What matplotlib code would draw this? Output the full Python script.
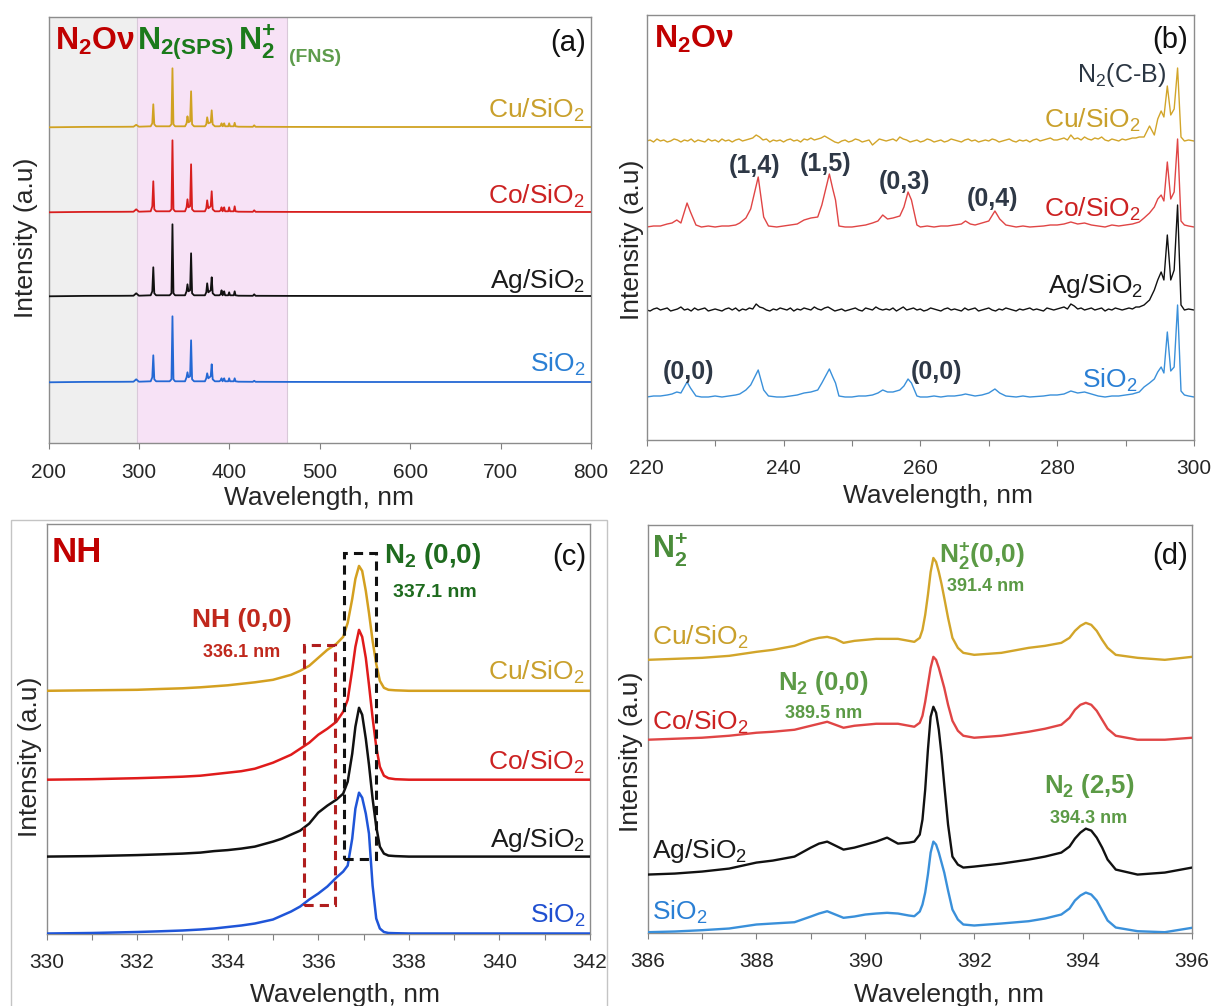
import matplotlib
matplotlib.use("Agg")
import matplotlib.pyplot as plt
from matplotlib.patches import Rectangle
from matplotlib.ticker import MultipleLocator

plt.rcParams['font.family'] = ['Liberation Sans', 'DejaVu Sans']
plt.rcParams['mathtext.fontset'] = 'custom'
plt.rcParams['mathtext.rm'] = 'Liberation Sans'
plt.rcParams['mathtext.bf'] = 'Liberation Sans:bold'
plt.rcParams['mathtext.it'] = 'Liberation Sans:italic'

# ---------------- data ----------------
samples = ["Cu/SiO$_2$", "Co/SiO$_2$", "Ag/SiO$_2$", "SiO$_2$"]

# panel (a): full spectra 200-800 nm (intensity above each trace's baseline)
wl_a = [200, 240, 280, 294, 297, 300,
        313, 314.8, 315.9, 317, 319,
        334, 336, 337.1, 338.2, 340,
        351, 352.7, 353.7, 354.8, 356.6, 357.7, 358.8, 361,
        373, 374.5, 375.5, 376.8, 379.4, 380.5, 381.6, 384,
        389, 390.4, 391.4, 392.5, 393.3, 394.3, 395.3,
        398.8, 399.8, 400.8, 404.9, 405.9, 406.9, 410,
        426, 427.5, 429, 465, 550, 650, 800]
a_cu = [0, 0.4, 0.5, 0.6, 2.5, 0.6,
        1, 4, 23, 3, 1,
        1, 3, 59, 3, 1,
        1, 4, 11, 5, 6, 36, 3, 1,
        1, 3, 10, 4, 5, 17, 3, 1,
        1, 1.5, 4, 1, 1.5, 4, 1,
        1, 4, 1, 1, 4.5, 1, 0.6,
        0.5, 2, 0.5, 0.4, 0.3, 0.3, 0.3]
a_co = [0, 0.4, 0.5, 0.6, 3, 0.6,
        1, 6, 31, 3, 1,
        1, 3, 72, 3, 1,
        1, 5, 13, 5, 6, 48, 3, 1,
        1, 4, 12, 4, 6, 21, 3, 1,
        1, 2, 5, 1, 2, 5, 1,
        1, 5, 1, 1, 6, 1, 0.6,
        0.5, 2, 0.5, 0.4, 0.3, 0.3, 0.3]
a_ag = [0, 0.4, 0.5, 0.6, 3, 0.6,
        1, 5, 29, 3, 1,
        1, 3, 72, 3, 1,
        1, 5, 12, 5, 6, 43, 3, 1,
        1, 4, 13, 4, 6, 19, 3, 1,
        1, 2, 6, 1, 2, 5, 1,
        1, 4, 1, 1, 5, 1, 0.6,
        0.5, 2, 0.5, 0.4, 0.3, 0.3, 0.3]
a_si = [0, 0.4, 0.5, 0.6, 3, 0.6,
        1, 5, 27, 3, 1,
        1, 3, 66, 3, 1,
        1, 5, 10, 5, 6, 42, 3, 1,
        1, 4, 9, 4, 6, 18, 3, 1,
        1, 2, 4, 1, 2, 4, 1,
        1, 4, 1, 1, 4, 1, 0.6,
        0.5, 1.5, 0.5, 0.4, 0.3, 0.3, 0.3]
offsets_a = [316, 231, 147, 61]

# panel (b): 220-300 nm
wl_b_struct = [220, 221, 222, 223, 223.7, 224.4, 225, 225.9, 226.4, 227.2,
               228, 229, 230, 231, 232, 233, 233.6, 234.5, 235.2, 236.3,
               237.1, 237.8, 239, 240, 241, 242, 243, 244, 245, 245.6,
               246.7, 247.2, 247.6, 248.1, 249, 250, 251, 252, 253, 253.8,
               254.5, 255.2, 256, 257, 257.6, 258.2, 258.7, 259.5, 260, 261,
               262, 263, 264, 265, 266, 266.6, 267.3, 268, 269, 270,
               270.9, 271.6, 272.5, 274, 275, 276, 278, 279, 280, 281,
               282, 283, 284, 285, 286, 287, 288, 289, 290, 291,
               292, 292.7, 293.5, 294.2, 294.7, 295.2, 295.6, 296.1, 296.6, 297.1,
               297.6, 298.1, 298.6, 299.2, 300]
b_co = [0, 1, 1, 3, 4, 7, 4, 24, 15, 2,
        0, 1, 0, 1, 1, 2, 4, 9, 18, 50,
        10, 1, 0, 1, 2, 3, 7, 9, 10, 22,
        53, 38, 27, 1, 0, 0, 1, 2, 4, 6,
        12, 8, 9, 11, 20, 35, 27, 2, 0, 1,
        0, 1, 1, 2, 3, 6, 3, 2, 4, 6,
        16, 8, 2, 0, 1, 0, 1, 2, 2, 3,
        5, 3, 4, 2, 1, 0, 2, 1, 2, 3,
        5, 9, 14, 20, 28, 32, 26, 65, 28, 35,
        88, 6, 2, 1, 0]
b_si = [0, 1, 1, 2, 3, 5, 4, 15, 9, 1,
        0, 0, 1, 0, 1, 2, 3, 7, 12, 27,
        7, 1, 0, 0, 1, 2, 4, 5, 7, 14,
        28, 20, 14, 1, 0, 0, 1, 1, 2, 4,
        7, 5, 5, 7, 11, 18, 14, 1, 0, 0,
        1, 0, 1, 1, 2, 3, 2, 1, 2, 4,
        8, 4, 1, 0, 1, 0, 1, 2, 2, 3,
        6, 4, 5, 3, 1, 0, 1, 1, 2, 3,
        5, 10, 14, 18, 25, 30, 24, 65, 26, 30,
        92, 6, 2, 1, 0]
# noisy traces: 0.5 nm grid from 220 to 292, then the N2(C-B) band head
wl_b_noise = [220 + 0.5 * i for i in range(145)] + \
             [292.7, 293.5, 294.2, 294.7, 295.2, 295.6, 296.1, 296.6, 297.1,
              297.6, 298.1, 298.6, 299.2, 300]
b_cu = [0, 1, -1, 2, 0, 1, -1, 0, 2, 1,
        -1, 1, 0, 2, -1, 1, 0, -1, 2, 0,
        1, -1, 2, 0, 1, -1, 1, 2, 0, 1,
        2, 3, 6, 4, 1, 2, -1, 1, 0, 1,
        -1, 1, 2, 0, 1, -1, 2, 1, 3, 1,
        2, 3, 5, 3, 1, -1, -2, 0, 1, -1,
        0, 2, 1, -1, 0, 1, -4, -1, 2, 1,
        0, 1, 2, 0, 4, 2, 1, -1, 0, 1,
        -1, 0, 2, 1, -1, 0, 1, -1, 0, 2,
        1, 0, -1, 1, 2, 0, 1, -1, 0, 1,
        0, 2, 1, -1, 0, 1, 2, 0, -1, 1,
        0, 1, -1, 1, 2, 0, 1, 2, 3, 1,
        1, 2, 3, 1, 6, 2, 3, 1, 4, 2,
        1, 3, 2, 4, 1, 0, 2, 1, 0, 2,
        1, 2, 3, 3, 4,
        4, 15, 6, 22, 30, 24, 55, 26, 32,
        73, 4, 0, 1, 0]
b_ag = [0, -1, 1, 2, 0, 1, 2, -1, 0, 1,
        3, 0, 1, -1, 2, 0, 1, 2, -1, 0,
        1, 0, -1, 1, 2, 0, 2, -1, 1, 0,
        2, 1, 6, 3, 2, 0, -1, 1, 0, 2,
        1, 0, 2, -1, 1, 0, 2, 1, 0, 3,
        1, 0, 2, 3, 1, -1, 0, 1, -1, 0,
        1, 2, 0, -1, 2, 1, 0, 3, 1, 0,
        1, 0, 2, -1, 1, 3, 0, 1, 2, 0,
        1, -1, 0, 2, 1, 0, -1, 1, 2, 0,
        1, 0, -1, 2, 0, 1, 2, -1, 0, 1,
        2, 0, -1, 1, 0, 2, 1, 0, -1, 1,
        0, 1, 2, 0, 1, 0, -1, 2, 1, 0,
        1, 2, 3, 1, 6, 4, 1, 2, 0, 1,
        2, 0, 1, 2, -1, 1, 0, 2, 1, 0,
        1, 2, 1, 3, 3,
        5, 10, 20, 30, 38, 30, 75, 30, 40,
        105, 5, 0, 1, 0]
offsets_b = [299, 213, 130, 43]

# panel (c): 330-342 nm
wl_c = [330, 331, 332, 332.5, 333, 333.4, 333.7, 334.0, 334.3, 334.6,
        335.0, 335.2, 335.4, 335.6, 335.8, 336.0, 336.2, 336.4, 336.55, 336.65,
        336.75, 336.82, 336.9, 336.97, 337.05, 337.12, 337.2, 337.28, 337.36, 337.45,
        337.55, 337.7, 338, 339, 340, 341, 342]
c_cu = [0, 0.5, 1, 1.8, 2.5, 3.5, 4.5, 5.5, 7, 8.5,
        11, 13.5, 16, 20, 25, 33, 41, 47, 54, 68,
        92, 112, 125, 120, 100, 78, 50, 27, 10, 3,
        1, 0.5, 0, 0, 0, 0, 0]
c_co = [0, 0.5, 1.5, 2.2, 3, 4, 5.5, 7, 8.5, 11,
        17, 21, 25, 31, 37, 45, 51, 58, 68, 80,
        110, 133, 150, 143, 122, 95, 62, 33, 13, 4,
        1.5, 0.5, 0, 0, 0, 0, 0]
c_ag = [0, 0.5, 1.5, 2.2, 3, 4, 5.5, 6.5, 8, 10,
        15, 18, 22, 26, 33, 44, 51, 57, 63, 75,
        103, 130, 149, 142, 118, 92, 58, 30, 10, 3,
        1, 0.5, 0, 0, 0, 0, 0]
c_si = [0, 0.5, 1.5, 2.2, 3, 4, 5, 6.5, 8, 10,
        14, 18, 22, 27, 34, 40, 47, 56, 62, 68,
        95, 125, 141, 136, 120, 100, 48, 15, 5, 1.5,
        0.5, 0.3, 0, 0, 0, 0, 0]
offsets_c = [243, 154, 77, 0]

# panel (d): 386-396 nm
wl_d = [386, 386.5, 387, 387.5, 388, 388.3, 388.7, 389.0, 389.15, 389.3,
        389.45, 389.6, 389.8, 390, 390.2, 390.4, 390.6, 390.8, 390.9, 391.0,
        391.05, 391.1, 391.15, 391.2, 391.25, 391.3, 391.35, 391.4, 391.45, 391.52,
        391.6, 391.7, 391.8, 392, 392.5, 393, 393.3, 393.6, 393.75, 393.85,
        393.95, 394.05, 394.15, 394.25, 394.35, 394.45, 394.6, 395, 395.5, 396]
d_cu = [0, 1, 2, 4, 8, 10, 14, 20, 22, 23,
        21, 17, 19, 20, 21, 21, 21, 19, 18, 22,
        30, 45, 65, 88, 102, 98, 88, 76, 62, 42,
        22, 12, 7, 5, 7, 12, 14, 17, 22, 29,
        34, 37, 35, 29, 20, 12, 5, 2, 0, 3]
d_co = [0, 1, 2, 4, 7, 8, 10, 14, 16, 18,
        15, 12, 14, 15, 16, 16, 16, 14, 13, 17,
        24, 38, 55, 72, 83, 80, 72, 62, 52, 35,
        19, 9, 4, 2, 4, 8, 11, 15, 22, 30,
        35, 37, 35, 29, 20, 11, 4, 0, 0, 2]
d_ag = [0, 1, 3, 6, 12, 14, 18, 27, 31, 33,
        29, 25, 27, 30, 33, 37, 31, 32, 33, 40,
        55, 85, 125, 158, 168, 162, 145, 120, 90, 50,
        18, 10, 7, 8, 11, 15, 18, 22, 28, 36,
        42, 46, 44, 37, 27, 15, 5, 0, 2, 7]
d_si = [0.3, 1, 2.3, 4, 8, 9, 10.3, 16, 19, 21.3,
        18, 14.7, 16, 18, 19, 19.7, 19, 17, 16.3, 21,
        28, 40, 58, 80, 91, 88, 80, 70, 60, 42,
        23, 13, 8, 7, 9, 11.3, 14, 18, 24, 32,
        37, 40, 38, 32, 22, 12, 5, 1.3, 0.3, 4.7]
offsets_d = [273, 193, 58, 0]

# ---------------- figure ----------------
W, H = 1212, 1006
fig = plt.figure(figsize=(W / 100, H / 100), dpi=100)


def ax_at(l, t, r, b):
    return fig.add_axes([l / W, 1 - b / H, (r - l) / W, (b - t) / H])


def ftext(x, y, s, **kw):
    kw.setdefault('va', 'baseline')
    fig.text(x / W, 1 - y / H, s, **kw)


def style(ax, xlim, ylim, major, minor=None):
    ax.set_xlim(*xlim)
    ax.set_ylim(*ylim)
    ax.set_yticks([])
    ax.xaxis.set_major_locator(MultipleLocator(major))
    if minor:
        ax.xaxis.set_minor_locator(MultipleLocator(minor))
    ax.tick_params(axis='x', which='both', direction='out', length=4, width=0.8,
                   color='#808080', labelsize=15, labelcolor='#262626', pad=10)
    for sp in ax.spines.values():
        sp.set_color('#8c8c8c')
        sp.set_linewidth(1.0)


LABEL_FS = 19
AXIS_FS = 19
CU_T, CO_T, AG_T, SI_T = '#C9A02C', '#CC2222', '#1a1a1a', '#2A7FD4'

# outer frame around panel (c)
fig.patches.append(Rectangle((11 / W, -0.01), (607 - 11) / W, (1006 - 520) / H + 0.01,
                             transform=fig.transFigure, fill=False, ec='#c4c4c4', lw=1.0))

# ---- (a)
axa = ax_at(48.5, 16.7, 591, 443.3)
style(axa, (200, 800), (0, 426.6), 100)
axa.axvspan(200, 297.4, color='#EFEFEF', zorder=0)
axa.axvspan(297.4, 463.5, facecolor='#F7E2F6', edgecolor='#d9c9d9', lw=0.8, zorder=0)
cols_a = ['#D0A222', '#D81E1E', '#111111', '#2468D4']
for vals, off, c in zip([a_cu, a_co, a_ag, a_si], offsets_a, cols_a):
    axa.plot(wl_a, [v + off for v in vals], color=c, lw=1.3, zorder=3)
ftext(55, 50, r"N$_\mathbf{2}$Oν", color='#C00000', fontsize=23, fontweight='bold')
ftext(137, 50, r"N$_\mathbf{2(SPS)}$", color='#1B7A1B', fontsize=23, fontweight='bold')
ftext(238, 50, r"N$_\mathbf{2}^\mathbf{+}$", color='#1B7A1B', fontsize=23, fontweight='bold')
ftext(289, 62, "(FNS)", color='#5E9C4C', fontsize=14, fontweight='bold')
ftext(586, 43, "(a)", color='#111111', fontsize=21, ha='right', va='center')
for s, y, c in zip(samples, [118, 204, 288, 372], [CU_T, CO_T, AG_T, SI_T]):
    ftext(585, y, s, color=c, fontsize=LABEL_FS, ha='right')
ftext(26, 238, "Intensity (a.u)", fontsize=AXIS_FS, color='#262626', rotation=90,
      ha='center', va='center')
ftext(319, 498, "Wavelength, nm", fontsize=AXIS_FS, color='#262626', ha='center', va='center')

# ---- (b)
axb = ax_at(646.7, 15, 1194, 440)
style(axb, (220, 300), (0, 425), 20, 10)
axb.plot(wl_b_noise, [v + offsets_b[0] for v in b_cu], color='#D2A52A', lw=1.0)
axb.plot(wl_b_struct, [v + offsets_b[1] for v in b_co], color='#E04545', lw=1.0)
axb.plot(wl_b_noise, [v + offsets_b[2] for v in b_ag], color='#111111', lw=1.0)
axb.plot(wl_b_struct, [v + offsets_b[3] for v in b_si], color='#3A90DA', lw=1.0)
ftext(654, 48, r"N$_\mathbf{2}$Oν", color='#C00000', fontsize=23, fontweight='bold')
ftext(1188, 40, "(b)", color='#111111', fontsize=21, ha='right', va='center')
ftext(1166, 82, r"N$_2$(C-B)", color='#2B3643', fontsize=18, ha='right')
for s, x, y, c in zip(samples, [1141, 1141, 1143, 1137], [128, 217, 293, 388],
                      [CU_T, CO_T, AG_T, SI_T]):
    ftext(x, y, s, color=c, fontsize=LABEL_FS, ha='right')
PK = '#2E3846'
for s, x, y in [("(1,4)", 755, 166), ("(1,5)", 826, 164), ("(0,3)", 904, 182),
                ("(0,4)", 993, 199), ("(0,0)", 689, 372), ("(0,0)", 937, 372)]:
    ftext(x, y, s, color=PK, fontsize=18, fontweight='bold', ha='center', va='center')
ftext(632, 240, "Intensity (a.u)", fontsize=AXIS_FS, color='#262626', rotation=90,
      ha='center', va='center')
ftext(938, 496, "Wavelength, nm", fontsize=AXIS_FS, color='#262626', ha='center', va='center')

# ---- (c)
axc = ax_at(46.5, 524, 590, 934)
style(axc, (330, 342), (-0.5, 410), 2, 1)
cols_c = ['#D4A020', '#E01B1B', '#111111', '#1F55D8']
for vals, off, c in zip([c_cu, c_co, c_ag, c_si], offsets_c, cols_c):
    axc.plot(wl_c, [v + off for v in vals], color=c, lw=1.8, zorder=3)
axc.add_patch(Rectangle((335.69, 29), 0.69, 260, fill=False, ls=(0, (3, 2)),
                        ec='#B01E1E', lw=2.2, zorder=4))
axc.add_patch(Rectangle((336.56, 75), 0.72, 306, fill=False, ls=(0, (3, 2)),
                        ec='#111111', lw=2.2, zorder=4))
ftext(52, 562, "NH", color='#C00000', fontsize=25, fontweight='bold')
ftext(586, 557, "(c)", color='#111111', fontsize=21, ha='right', va='center')
ftext(384, 563, r"N$_\mathbf{2}$ (0,0)", color='#1E6B1E', fontsize=20, fontweight='bold')
ftext(393, 597, "337.1 nm", color='#1E6B1E', fontsize=14, fontweight='bold')
ftext(192, 627, "NH (0,0)", color='#C0281C', fontsize=19, fontweight='bold')
ftext(203, 657, "336.1 nm", color='#C0281C', fontsize=13, fontweight='bold')
for s, y, c in zip(samples, [680, 770, 847, 923], [CU_T, CO_T, AG_T, '#1F4FD0']):
    ftext(585, y, s, color=c, fontsize=LABEL_FS, ha='right')
ftext(30, 757, "Intensity (a.u)", fontsize=AXIS_FS, color='#262626', rotation=90,
      ha='center', va='center')
ftext(345, 995, "Wavelength, nm", fontsize=AXIS_FS, color='#262626', ha='center', va='center')

# ---- (d)
axd = ax_at(647.5, 525, 1192, 933)
style(axd, (386, 396), (-0.5, 408), 2, 1)
cols_d = ['#D2A52A', '#E04545', '#111111', '#3A90DA']
for vals, off, c in zip([d_cu, d_co, d_ag, d_si], offsets_d, cols_d):
    axd.plot(wl_d, [v + off for v in vals], color=c, lw=1.7, zorder=3)
GR = '#5B9A45'
ftext(652, 558, r"N$_\mathbf{2}^\mathbf{+}$", color='#4A8C3A', fontsize=22, fontweight='bold')
ftext(1188, 556, "(d)", color='#111111', fontsize=21, ha='right', va='center')
ftext(939, 563, r"N$_\mathbf{2}^\mathbf{+}$(0,0)", color=GR, fontsize=19, fontweight='bold')
ftext(947, 591, "391.4 nm", color=GR, fontsize=13, fontweight='bold')
ftext(778, 690, r"N$_\mathbf{2}$ (0,0)", color=GR, fontsize=18.5, fontweight='bold')
ftext(785, 718, "389.5 nm", color=GR, fontsize=13, fontweight='bold')
ftext(1044, 793, r"N$_\mathbf{2}$ (2,5)", color=GR, fontsize=18.5, fontweight='bold')
ftext(1050, 823, "394.3 nm", color=GR, fontsize=13, fontweight='bold')
for s, y, c in zip(samples, [645, 730, 858, 920], [CU_T, CO_T, AG_T, SI_T]):
    ftext(652, y, s, color=c, fontsize=LABEL_FS, ha='left')
ftext(631, 752, "Intensity (a.u)", fontsize=AXIS_FS, color='#262626', rotation=90,
      ha='center', va='center')
ftext(949, 995, "Wavelength, nm", fontsize=AXIS_FS, color='#262626', ha='center', va='center')

fig.savefig("out.png", dpi=100, facecolor='white')
